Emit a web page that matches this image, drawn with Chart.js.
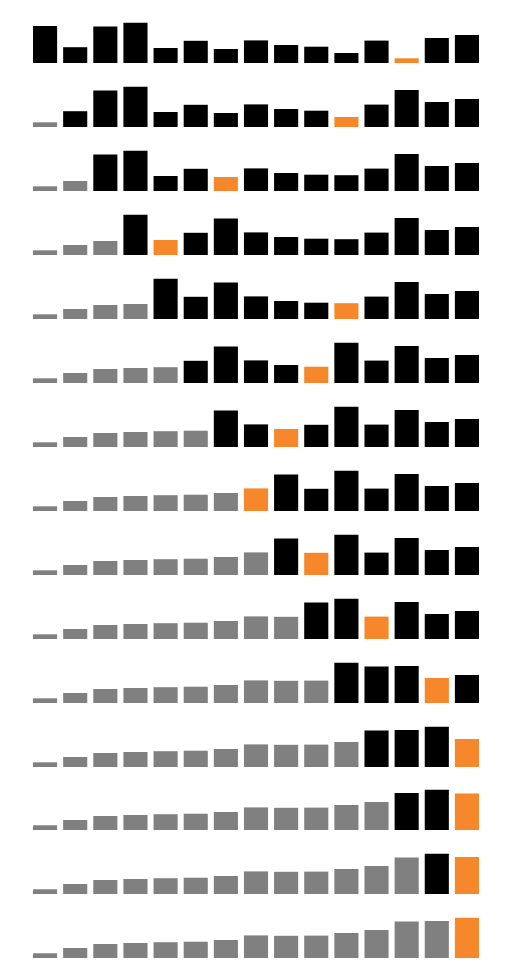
<!DOCTYPE html>
<html>
<head>
<meta charset="utf-8">
<script src="https://cdn.jsdelivr.net/npm/chart.js@4"></script>
<style>
  html, body { margin: 0; padding: 0; background: #fff; }
  body { width: 512px; height: 980px; position: relative; overflow: hidden; }
  .row { position: absolute; left: 30px; width: 452px; height: 60px; }
</style>
</head>
<body>
<div id="wrap"></div>
<script>
// Initial (unsorted) values, read from the first row
const initialValues = [37, 15.8, 36.4, 40.3, 15, 22.2, 14, 22.6, 18, 16.3, 10, 22.4, 4.7, 25, 28];
// Position of the highlighted (minimum) bar in each row
const highlightIndex = [12, 10, 6, 4, 10, 9, 8, 7, 9, 11, 13, 14, 14, 14, 14];
const categories = initialValues.map((_, i) => String(i + 1));

const COLOR_SORTED = '#808080';
const COLOR_UNSORTED = '#000000';
const COLOR_HIGHLIGHT = '#f6872a';

const wrap = document.getElementById('wrap');
let current = initialValues.slice();
const rows = [];
for (let r = 0; r < highlightIndex.length; r++) {
  rows.push({ values: current.slice(), hi: highlightIndex[r], sorted: r });
  // swap the highlighted bar into the next sorted position
  const h = highlightIndex[r];
  const t = current[r]; current[r] = current[h]; current[h] = t;
}

rows.forEach((row, r) => {
  const div = document.createElement('div');
  div.className = 'row';
  const baseline = 63.3 + 63.93 * r;
  div.style.top = (baseline - 60) + 'px';
  const canvas = document.createElement('canvas');
  div.appendChild(canvas);
  wrap.appendChild(div);
  const colors = row.values.map((_, i) =>
    i === row.hi ? COLOR_HIGHLIGHT : (i < row.sorted ? COLOR_SORTED : COLOR_UNSORTED));
  new Chart(canvas, {
    type: 'bar',
    data: {
      labels: categories,
      datasets: [{
        data: row.values,
        backgroundColor: colors,
        borderWidth: 0,
        barPercentage: 0.8,
        categoryPercentage: 1.0
      }]
    },
    options: {
      responsive: true,
      maintainAspectRatio: false,
      animation: false,
      layout: { padding: 0 },
      plugins: { legend: { display: false }, tooltip: { enabled: false } },
      scales: {
        x: { display: false },
        y: { display: false, min: 0, max: 60 }
      }
    }
  });
});
</script>
</body>
</html>
